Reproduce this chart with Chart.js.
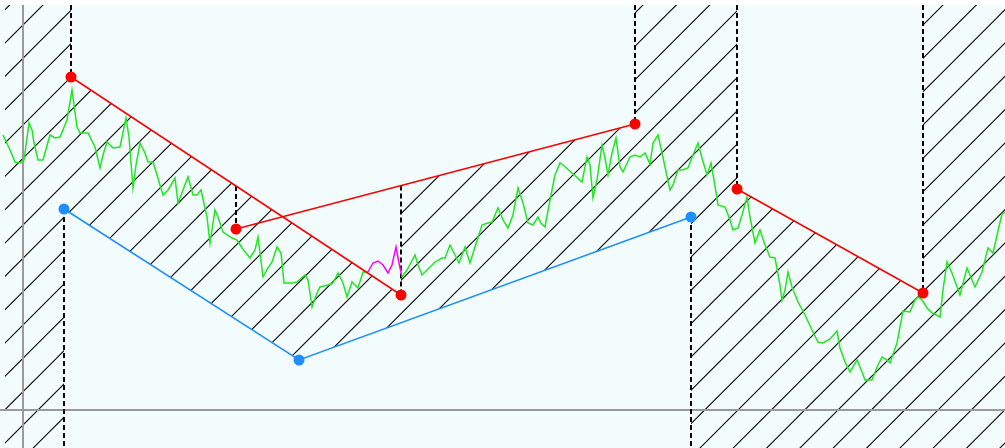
<!DOCTYPE html>
<html>
<head>
<meta charset="utf-8">
<script src="https://cdn.jsdelivr.net/npm/chart.js@4.4.1/dist/chart.umd.min.js"></script>
<style>
  html, body { margin: 0; padding: 0; background: #ffffff; }
  #wrap { padding-top: 5px; }
  #chart { display: block; background: #f2fcfc; }
</style>
</head>
<body>
<div id="wrap"><canvas id="chart" width="1005" height="443"></canvas></div>
<script>
// price series (x = bar position, y = price)
const priceX = [-20, -13, -8, -3, 1, 6, 9, 11, 15, 20, 27, 32, 37, 44, 49, 54, 57, 65, 72, 77,
  80, 84, 90, 97, 103, 106, 110, 113, 117, 122, 125, 130, 134, 140, 145, 152, 155, 165, 170, 174,
  178, 184, 187, 192, 195, 200, 209, 214, 219, 227, 232, 235, 240, 245, 249, 254, 258, 261, 269, 274,
  282, 285, 289, 294, 297, 305, 310, 315, 320, 324, 329, 332, 335, 340, 345, 350, 355, 360, 365, 369,
  373, 376, 379, 384, 392, 395, 399, 404, 412, 419, 422, 427, 432, 436, 442, 447, 452, 459, 465, 469,
  475, 480, 485, 490, 495, 500, 505, 510, 515, 518, 522, 527, 532, 537, 540, 559, 564, 567, 570, 574,
  579, 582, 585, 589, 593, 597, 600, 607, 612, 617, 622, 627, 630, 635, 639, 642, 647, 650, 655, 659,
  665, 670, 675, 679, 684, 688, 691, 695, 702, 707, 710, 715, 719, 724, 727, 732, 737, 742, 747, 752,
  757, 759, 762, 765, 769, 775, 782, 789, 795, 800, 807, 814, 817, 822, 827, 834, 839, 842, 849, 854,
  859, 864, 867, 874, 880, 887, 892, 895, 899, 904, 909, 917, 920, 924, 929, 937, 944, 952, 959, 965,
  970, 975, 979, 982];
const priceY = [275, 260, 248, 247, 250, 287, 280, 267, 250, 250, 275, 272, 273, 290, 320, 283, 277, 277, 263, 242,
  255, 268, 262, 263, 292, 273, 222, 245, 267, 257, 248, 248, 235, 215, 220, 232, 207, 233, 215, 215,
  220, 193, 167, 200, 193, 178, 172, 170, 162, 152, 160, 173, 133, 142, 148, 163, 157, 127, 127, 128,
  135, 130, 103, 117, 123, 125, 127, 137, 127, 113, 128, 125, 122, 138, 138, 147, 149, 145, 137, 145,
  163, 147, 133, 140, 155, 145, 135, 140, 148, 152, 152, 165, 155, 147, 163, 147, 163, 185, 187, 188,
  202, 190, 182, 195, 222, 207, 187, 185, 193, 187, 183, 210, 235, 247, 245, 228, 253, 245, 212, 230,
  265, 252, 235, 257, 272, 243, 238, 253, 255, 253, 257, 246, 267, 275, 257, 243, 220, 225, 240, 240,
  242, 255, 267, 252, 235, 247, 230, 205, 203, 190, 180, 182, 195, 213, 193, 167, 180, 165, 153, 152,
  125, 110, 120, 138, 123, 108, 95, 80, 68, 67, 71, 79, 62, 48, 38, 50, 38, 30, 30, 43,
  53, 50, 47, 67, 99, 98, 110, 113, 110, 102, 97, 93, 120, 148, 137, 115, 142, 123, 138, 162,
  157, 179, 196, 198];
// stretch of the series drawn in magenta
const magentaFrom = 345;
const magentaTo = 379;

// pivot points
const redX = [48, 213, 378, 612, 714, 900];
const redY = [333, 181, 115, 286, 221, 117];
const blueX = [41, 276, 668];
const blueY = [201, 50, 193];

// visible window
const xMin = -23, xMax = 982;
const yMin = -38, yMax = 405;
const hatchLeft = -18;

// hatch pattern: tile size, lines per tile, horizontal shift
const hatchTile = 100;
const hatchLinesPerTile = 3;
const hatchShift = 43;

function lineAt(x0, y0, x1, y1, x) {
    return y0 + (y1 - y0) * (x - x0) / (x1 - x0);
}

function makeHatch(ctx) {
    const tile = document.createElement('canvas');
    tile.width = hatchTile;
    tile.height = hatchTile;
    const t = tile.getContext('2d');
    t.strokeStyle = '#000000';
    t.lineWidth = 1.1;
    const step = hatchTile / hatchLinesPerTile;
    for (let k = 0; k <= 2 * hatchLinesPerTile; k++) {
        const c = k * step;
        t.beginPath();
        t.moveTo(c + 2, -2);
        t.lineTo(c - hatchTile - 2, hatchTile + 2);
        t.stroke();
    }
    const pattern = ctx.createPattern(tile, 'repeat');
    pattern.setTransform(new DOMMatrix([1, 0, 0, 1, hatchShift, 0]));
    return pattern;
}

const pt = (x, y) => ({ x: x, y: y });
const red = i => pt(redX[i], redY[i]);
const blue = i => pt(blueX[i], blueY[i]);

// where the two upper red legs meet the dashed drop lines
const aAt213 = lineAt(redX[0], redY[0], redX[2], redY[2], redX[1]);
const bAt378 = lineAt(redX[1], redY[1], redX[3], redY[3], redX[2]);

const dashedSegments = [
    [pt(redX[0], yMax), red(0)],
    [blue(0), pt(blueX[0], yMin)],
    [pt(redX[1], aAt213), red(1)],
    [pt(redX[2], bAt378), red(2)],
    [pt(redX[3], yMax), red(3)],
    [blue(2), pt(blueX[2], yMin)],
    [pt(redX[4], yMax), red(4)],
    [pt(redX[5], yMax), red(5)]
];
const dashedData = [];
dashedSegments.forEach(seg => {
    dashedData.push(seg[0], seg[1], { x: seg[1].x, y: null });
});

const upperEdge = [
    pt(hatchLeft, yMax), pt(redX[0], yMax), red(0), red(2), pt(redX[2], bAt378), red(3),
    pt(redX[3], yMax), pt(redX[4], yMax), red(4), red(5), pt(redX[5], yMax), pt(xMax, yMax)
];
const lowerEdge = [
    pt(hatchLeft, yMin), pt(blueX[0], yMin), blue(0), blue(1), blue(2), pt(blueX[2], yMin), pt(xMax, yMin)
];

const priceData = priceX.map((x, i) => pt(x, priceY[i]));

const canvas = document.getElementById('chart');
const ctx = canvas.getContext('2d');
const hatch = makeHatch(ctx);

function redLeg(a, b) {
    return {
        data: [red(a), red(b)],
        borderColor: '#ff0000',
        borderWidth: 1.5,
        pointRadius: 5.5,
        pointBorderWidth: 0,
        pointBackgroundColor: '#ff0000',
        fill: false
    };
}

new Chart(ctx, {
    type: 'line',
    data: {
        datasets: [
            redLeg(0, 2),
            redLeg(1, 3),
            redLeg(4, 5),
            {
                data: [blue(0), blue(1), blue(2)],
                borderColor: '#1e8fff',
                borderWidth: 1.5,
                pointRadius: 5.5,
                pointBorderWidth: 0,
                pointBackgroundColor: '#1e8fff',
                fill: false
            },
            {
                data: priceData,
                borderColor: '#22e622',
                borderWidth: 1.5,
                pointRadius: 0,
                fill: false,
                segment: {
                    borderColor: c => (c.p0.parsed.x >= magentaFrom && c.p1.parsed.x <= magentaTo) ? '#ff00ff' : undefined
                }
            },
            {
                data: dashedData,
                borderColor: '#000000',
                borderWidth: 2,
                borderDash: [5, 3],
                pointRadius: 0,
                spanGaps: false,
                fill: false
            },
            {
                data: [pt(xMin, 0), pt(xMax, 0)],
                borderColor: '#9a9a9a',
                borderWidth: 2,
                pointRadius: 0,
                fill: false
            },
            {
                data: [pt(0, yMin), pt(0, yMax)],
                borderColor: '#9a9a9a',
                borderWidth: 2,
                pointRadius: 0,
                fill: false
            },
            {
                data: upperEdge,
                borderColor: 'transparent',
                borderWidth: 0,
                pointRadius: 0,
                backgroundColor: hatch,
                fill: { target: 9 }
            },
            {
                data: lowerEdge,
                borderColor: 'transparent',
                borderWidth: 0,
                pointRadius: 0,
                fill: false
            }
        ]
    },
    options: {
        responsive: false,
        animation: false,
        events: [],
        layout: { padding: 0, autoPadding: false },
        plugins: {
            legend: { display: false },
            tooltip: { enabled: false }
        },
        scales: {
            x: { type: 'linear', min: xMin, max: xMax, display: false },
            y: { type: 'linear', min: yMin, max: yMax, display: false }
        }
    }
});
</script>
</body>
</html>
